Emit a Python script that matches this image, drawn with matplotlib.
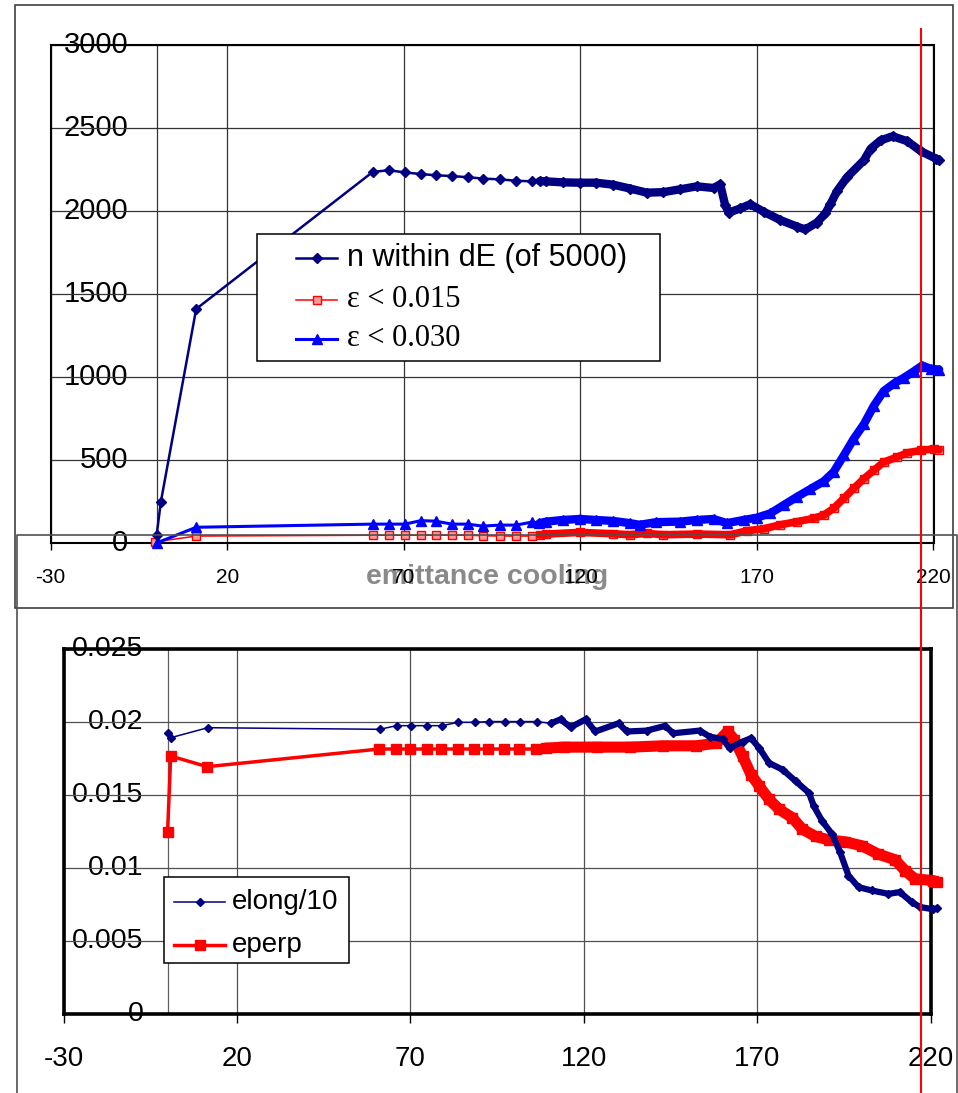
import matplotlib
matplotlib.use('Agg')
import matplotlib.pyplot as plt
import matplotlib.transforms as mtransforms
import numpy as np
from matplotlib.lines import Line2D
from matplotlib.patches import Rectangle

# ---- data ----
# top chart: particle counts along the channel
n_x = [0, 1.2, 11.2, 61.2, 65.7, 70.3, 74.8, 79.0, 83.6, 88.1, 92.3, 97.1, 101.8, 106.2,
       108.5, 110.3, 115, 119.8, 124.5, 129.3, 134, 138.8, 143.5, 148.2, 153, 157.7,
       159.6, 161, 162, 165.3, 168.1, 171.9, 176.6, 181.4, 183.7, 187, 189.4, 190.8,
       192.7, 195.6, 200.3, 202.2, 205, 208.4, 212.6, 216.4, 220.7, 221.6]
n_within = [46, 247, 1409, 2235, 2245, 2232, 2222, 2215, 2210, 2203, 2195, 2190, 2182, 2178,
            2180, 2178, 2172, 2170, 2170, 2158, 2135, 2110, 2113, 2130, 2148, 2138,
            2160, 2035, 1990, 2015, 2040, 1995, 1945, 1905, 1888, 1930, 1985, 2040,
            2120, 2205, 2305, 2375, 2425, 2450, 2420, 2360, 2315, 2305]

e30_x = [0.2, 11.2, 61.2, 65.7, 70.3, 74.8, 79.0, 83.6, 88.1, 92.3, 97.1, 101.8, 106.2,
         108.4, 110.3, 115, 119.8, 124.5, 129.3, 134, 136.8, 141.5, 148.2, 153, 157.7,
         161.5, 166.2, 170, 173.8, 177.6, 181.4, 185.1, 188.9, 191.7, 194.6, 197.4,
         200.3, 203.1, 205.9, 208.8, 211.6, 214.5, 216.8, 219.2, 221.6]
e30 = [0, 93, 112, 112, 112, 133, 130, 112, 112, 100, 106, 106, 124,
       118, 127, 137, 143, 137, 131, 118, 108, 124, 127, 137, 143,
       118, 137, 151, 177, 227, 277, 323, 370, 426, 526, 626,
       715, 825, 914, 960, 994, 1034, 1068, 1048, 1044]

e15_x = [-0.5, 11.2, 61.2, 65.7, 70.3, 74.8, 79.0, 83.6, 88.1, 92.3, 97.1, 101.8, 106.2,
         108.5, 110.3, 119.8, 129.3, 134, 138.8, 143.5, 153, 162.5, 167.2, 171.9, 176.6,
         181.4, 186.1, 189, 191.7, 194.6, 197.4, 200.3, 203.1, 205.9, 209.7, 212.6,
         216.4, 220.2, 221.6]
e15 = [5, 40, 45, 45, 45, 45, 45, 45, 45, 42, 40, 40, 40,
       46, 52, 62, 54, 48, 56, 48, 52, 48, 72, 84, 108,
       127, 147, 167, 207, 267, 327, 386, 436, 486, 516, 542,
       556, 566, 560]

# bottom chart: emittances
el_x = [0, 1.0, 11.6, 61.2, 66.0, 70.2, 74.9, 79.1, 83.8, 88.5, 92.7, 97.3, 101.6, 106.4,
        110.5, 113.3, 116.2, 120.5, 123.3, 130, 132.4, 138.1, 143.4, 145.8, 153.4, 156.3,
        160.1, 162, 165.8, 168.2, 170.6, 173.4, 177.3, 181.1, 184.9, 186.3, 188.7, 191.6,
        193.9, 196.3, 199.2, 203, 207.8, 211.1, 214.5, 216.9, 220.7, 221.8]
elong10 = [0.01929, 0.01895, 0.01963, 0.01952, 0.01977, 0.01977, 0.01977, 0.01977, 0.0200,
           0.0200, 0.02005, 0.02005, 0.02005, 0.02005,
           0.01993, 0.0202, 0.01966, 0.0202, 0.01937, 0.01993, 0.01937, 0.01943, 0.01975,
           0.01925, 0.01943, 0.01902, 0.01884, 0.01823, 0.01868, 0.01891, 0.01823, 0.01721,
           0.01676, 0.01596, 0.01517, 0.01426, 0.01324, 0.01233, 0.01109, 0.0095, 0.00871,
           0.00848, 0.00825, 0.00837, 0.00769, 0.00735, 0.00719, 0.00725]

ep_x = [0, 0.9, 11.4, 61.0, 65.8, 70.0, 74.7, 78.9, 83.6, 88.3, 92.5, 97.1, 101.4, 106.2,
        109, 114.3, 123.8, 133.4, 142.9, 152.4, 158.2, 161.5, 163.4, 165.8, 168.2, 170.6,
        173.4, 176.3, 180.1, 183, 186.8, 190.6, 195.4, 200.2, 204.9, 209.7, 212.6, 215.5,
        220.7, 221.8]
eperp = [0.01247, 0.01769, 0.01696, 0.01817, 0.01817, 0.01817, 0.01817, 0.01817, 0.01817,
         0.01817, 0.01817, 0.01817, 0.01817, 0.01817,
         0.01823, 0.0183, 0.0183, 0.0183, 0.01839, 0.01839, 0.01857, 0.01937, 0.0188,
         0.01766, 0.01642, 0.01562, 0.01472, 0.01404, 0.01347, 0.01268, 0.01218, 0.01195,
         0.01181, 0.01154, 0.01097, 0.01059, 0.00984, 0.00927, 0.00916, 0.00905]

x_ticks = [-30, 20, 70, 120, 170, 220]
top_yticks = [0, 500, 1000, 1500, 2000, 2500, 3000]
bot_yticks = [0, 0.005, 0.01, 0.015, 0.02, 0.025]
bot_ylabels = ['0', '0.005', '0.01', '0.015', '0.02', '0.025']

plt.rcParams['font.family'] = ['Liberation Sans', 'DejaVu Sans']
plt.rcParams['axes.unicode_minus'] = False

W, H = 958, 1093
NAVY = '#000080'
DENSE = 107  # points after this x are packed so tightly they form a band


def fx(px):
    return px / W


def fy(py):
    return 1 - py / H


def band(ax, x, y, color, lw):
    x = np.asarray(x)
    y = np.asarray(y)
    m = x >= DENSE
    ax.plot(x[m], y[m], color=color, lw=lw, solid_capstyle='round', clip_on=False, zorder=3)


fig = plt.figure(figsize=(9.58, 10.93), dpi=100)

# ---------------- top chart ----------------
ax1 = fig.add_axes([fx(50.7), fy(542.7), (933.5 - 50.7) / W, (542.7 - 45) / H])
ax1.set_xlim(-30, 220)
ax1.set_ylim(0, 3000)
ax1.set_xticks(x_ticks)
ax1.set_yticks(top_yticks)
ax1.set_yticklabels([])
ax1.tick_params(axis='y', length=0)
ax1.tick_params(axis='x', length=5, width=1, direction='out', labelsize=15, pad=13)
ax1.grid(True, color='#333333', lw=0.9)
ax1.axvline(0, color='#333333', lw=0.9, zorder=1.5)
for s in ax1.spines.values():
    s.set_linewidth(1.5)
trans1 = mtransforms.blended_transform_factory(ax1.transAxes, ax1.transData)
for v in top_yticks:
    ax1.text(0.0876, v, str(v), transform=trans1, ha='right', va='center',
             fontsize=21, zorder=1)

ax1.plot(e15_x, e15, color='red', lw=1.1, marker='s', ms=6, mfc='#ff9a9a', mec='red',
         mew=1, clip_on=False, zorder=3)
band(ax1, e15_x, e15, 'red', 5.5)
ax1.plot(e30_x, e30, color='blue', lw=2.2, marker='^', ms=7, mfc='blue', mec='blue',
         clip_on=False, zorder=3)
band(ax1, e30_x, e30, 'blue', 6.0)
ax1.plot(n_x, n_within, color=NAVY, lw=1.8, marker='D', ms=5, mfc=NAVY, mec=NAVY,
         clip_on=False, zorder=3)
band(ax1, n_x, n_within, NAVY, 6.0)

# ---------------- bottom chart ----------------
ax2 = fig.add_axes([fx(63.5), fy(1014.3), (930.7 - 63.5) / W, (1014.3 - 649.3) / H])
ax2.set_xlim(-30, 220)
ax2.set_ylim(0, 0.025)
ax2.set_xticks(x_ticks)
ax2.set_yticks(bot_yticks)
ax2.set_yticklabels([])
ax2.tick_params(axis='y', length=0)
ax2.tick_params(axis='x', length=6.5, width=1, direction='out', labelsize=20, pad=16)
ax2.grid(True, color='#505050', lw=0.9)
ax2.axvline(0, color='#606060', lw=0.9, zorder=1.5)
for s in ax2.spines.values():
    s.set_linewidth(2.6)
trans2 = mtransforms.blended_transform_factory(ax2.transAxes, ax2.transData)
for v, lab in zip(bot_yticks, bot_ylabels):
    ax2.text(0.092, v, lab, transform=trans2, ha='right', va='center',
             fontsize=20.5, zorder=1)

ax2.plot(ep_x, eperp, color='red', lw=2.5, marker='s', ms=7.5, mfc='red', mec='red',
         clip_on=False, zorder=3)
band(ax2, ep_x, eperp, 'red', 8.0)
ax2.plot(el_x, elong10, color=NAVY, lw=1.1, marker='D', ms=4.5, mfc=NAVY, mec=NAVY,
         clip_on=False, zorder=3)
band(ax2, el_x, elong10, NAVY, 4.5)

# ---------------- frames, title, legends ----------------
fig.text(fx(487), fy(583.5), 'emittance cooling', ha='center', va='baseline',
         fontsize=20.5, fontweight='bold', color='#8a8a8a', zorder=-1)

fig.add_artist(Rectangle((fx(15.5), fy(608)), (953 - 15.5) / W, (608 - 5) / H,
                         transform=fig.transFigure, fill=False, ec='#404040', lw=1.2, zorder=5))
fig.add_artist(Line2D([fx(17), fx(17), fx(957), fx(957)], [fy(1093), fy(535), fy(535), fy(1093)],
                      transform=fig.transFigure, color='#505050', lw=1.2, zorder=5))

# top legend
fig.add_artist(Rectangle((fx(257), fy(361)), (660 - 257) / W, (361 - 234) / H,
                         transform=fig.transFigure, fc='white', ec='black', lw=1.1, zorder=6))
top_leg = [('n within dE (of 5000)', NAVY, 1.8, 'D', 5, NAVY, 'Liberation Sans', 258),
           ('ε < 0.015', 'red', 1.1, 's', 6, '#ff9a9a', 'Liberation Serif', 299.5),
           ('ε < 0.030', 'blue', 2.2, '^', 7, 'blue', 'Liberation Serif', 339)]
for lab, c, lw, mk, ms, mfc, fam, yy in top_leg:
    fig.add_artist(Line2D([fx(296), fx(337)], [fy(yy), fy(yy)], transform=fig.transFigure,
                          color=c, lw=lw, zorder=7))
    fig.add_artist(Line2D([fx(316.5)], [fy(yy)], transform=fig.transFigure, marker=mk, ms=ms,
                          mfc=mfc, mec=c, color=c, zorder=7))
    fig.text(fx(347), fy(yy), lab, ha='left', va='center', fontsize=22, family=fam, zorder=8)

# bottom legend
fig.add_artist(Rectangle((fx(164), fy(963)), (349 - 164) / W, (963 - 877) / H,
                         transform=fig.transFigure, fc='white', ec='black', lw=1.1, zorder=6))
bot_leg = [('elong/10', NAVY, 1.1, 'D', 4.5, 901.7),
           ('eperp', 'red', 2.5, 's', 7.5, 945)]
for lab, c, lw, mk, ms, yy in bot_leg:
    fig.add_artist(Line2D([fx(174), fx(225)], [fy(yy), fy(yy)], transform=fig.transFigure,
                          color=c, lw=lw, zorder=7))
    fig.add_artist(Line2D([fx(199.5)], [fy(yy)], transform=fig.transFigure, marker=mk, ms=ms,
                          mfc=c, mec=c, color=c, zorder=7))
    fig.text(fx(232), fy(yy), lab, ha='left', va='center', fontsize=20, zorder=8)

# red marker line across both charts
fig.add_artist(Line2D([fx(920.7), fx(920.7)], [fy(29), fy(1093)], transform=fig.transFigure,
                      color='red', lw=1.5, zorder=10))

fig.savefig('out.png', dpi=100)
